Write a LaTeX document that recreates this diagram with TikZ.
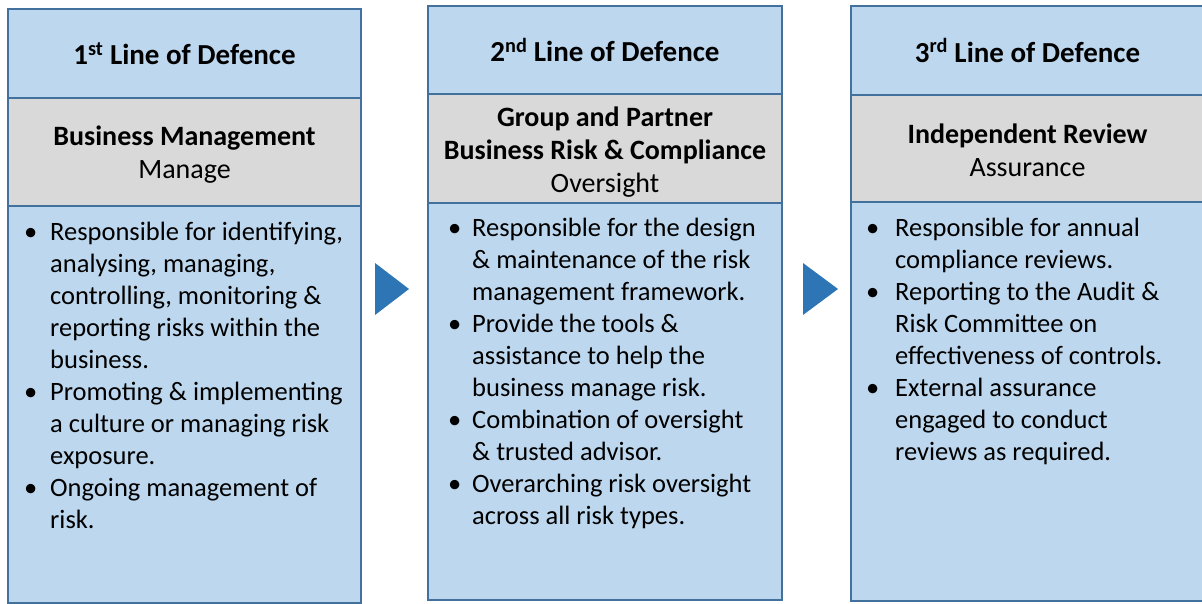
\documentclass[tikz,border=0pt]{standalone}
\usepackage{fontspec}
\setmainfont{Carlito}
\definecolor{boxblue}{HTML}{BDD7EE}
\definecolor{boxedge}{HTML}{41719C}
\definecolor{boxgray}{HTML}{D9D9D9}
\definecolor{arrowblue}{HTML}{2E75B6}
\newcommand\bulbox[1]{\makebox[#1][l]{\textbullet}}
\newcommand\indbox[1]{\hspace*{#1}}
\newcommand\firststrut{\rule{0pt}{22pt}}
\tikzset{
  panel/.style={draw=boxedge, line width=2.2pt, inner sep=0pt, outer sep=0pt},
  hdrbox/.style={panel, fill=boxblue, font=\fontsize{29}{35}\selectfont\bfseries, align=center},
  midbox/.style={panel, fill=boxgray},
  midtext/.style={inner sep=0pt, font=\fontsize{28}{33}\selectfont, align=center},
  bodybox/.style={panel, fill=boxblue},
  bodytext/.style={anchor=north west, align=left, inner sep=0pt, font=\fontsize{26.5}{32}\selectfont},
  chevron/.style={fill=arrowblue}
}
\begin{document}
\begin{tikzpicture}[x=1pt,y=-1pt]
\useasboundingbox (0,0) rectangle (1202,604);
% column 1
\node[bodybox, minimum width=353pt, minimum height=397pt] (b1) at (184.5,404.5) {};
\node[midbox, minimum width=353pt, minimum height=108pt] (m1) at (184.5,152) {};
\node[midtext] (m1t) at (184.5,155) {\textbf{Business Management}\\Manage};
\node[hdrbox, minimum width=353pt, minimum height=89pt] (h1) at (184.5,53.5) {1\textsuperscript{st} Line of Defence};
\node[bodytext] (t1) at (24,218) {\firststrut\bulbox{26pt}Responsible for identifying,\\
\indbox{26pt}analysing, managing,\\
\indbox{26pt}controlling, monitoring \&\\
\indbox{26pt}reporting risks within the\\
\indbox{26pt}business.\\
\bulbox{26pt}Promoting \& implementing\\
\indbox{26pt}a culture or managing risk\\
\indbox{26pt}exposure.\\
\bulbox{26pt}Ongoing management of\\
\indbox{26pt}risk.};
% column 2
\node[bodybox, minimum width=354pt, minimum height=397pt] (b2) at (605,401.5) {};
\node[midbox, minimum width=354pt, minimum height=109pt] (m2) at (605,148.5) {};
\node[midtext] (m2t) at (605,152) {\textbf{Group and Partner}\\\textbf{Business Risk \& Compliance}\\Oversight};
\node[hdrbox, minimum width=354pt, minimum height=88pt] (h2) at (605,50) {2\textsuperscript{nd} Line of Defence};
\node[bodytext] (t2) at (448,214) {\firststrut\bulbox{24pt}Responsible for the design\\
\indbox{24pt}\& maintenance of the risk\\
\indbox{24pt}management framework.\\
\bulbox{24pt}Provide the tools \&\\
\indbox{24pt}assistance to help the\\
\indbox{24pt}business manage risk.\\
\bulbox{24pt}Combination of oversight\\
\indbox{24pt}\& trusted advisor.\\
\bulbox{24pt}Overarching risk oversight\\
\indbox{24pt}across all risk types.};
% column 3
\node[bodybox, minimum width=353pt, minimum height=399pt] (b3) at (1027.5,401.5) {};
\node[midbox, minimum width=353pt, minimum height=107pt] (m3) at (1027.5,148.5) {};
\node[midtext] (m3t) at (1027.5,150) {\textbf{Independent Review}\\Assurance};
\node[hdrbox, minimum width=353pt, minimum height=89pt] (h3) at (1027.5,50.5) {3\textsuperscript{rd} Line of Defence};
\node[bodytext] (t3) at (866,214) {\firststrut\bulbox{29pt}Responsible for annual\\
\indbox{29pt}compliance reviews.\\
\bulbox{29pt}Reporting to the Audit \&\\
\indbox{29pt}Risk Committee on\\
\indbox{29pt}effectiveness of controls.\\
\bulbox{29pt}External assurance\\
\indbox{29pt}engaged to conduct\\
\indbox{29pt}reviews as required.};
% chevrons
\fill[chevron] (375,263) -- (409,289) -- (375,315) -- cycle;
\fill[chevron] (803,263) -- (838,289) -- (803,315) -- cycle;
\end{tikzpicture}
\end{document}
